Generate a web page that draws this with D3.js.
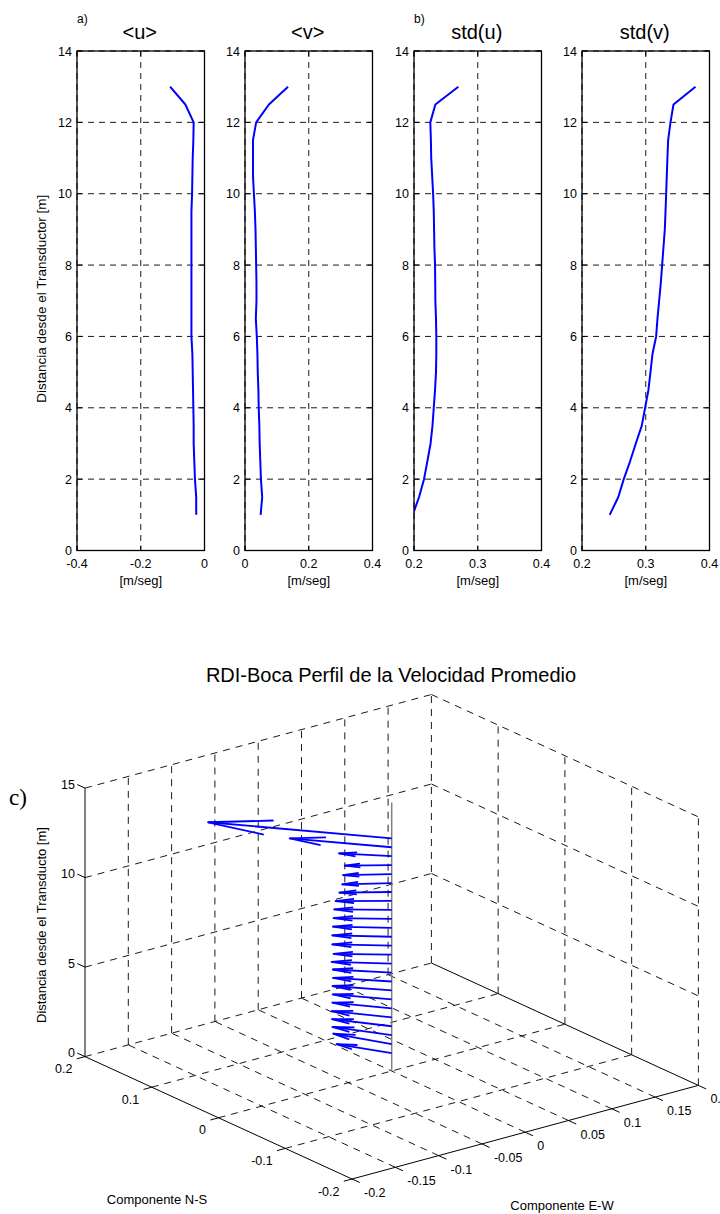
<!DOCTYPE html>
<html>
<head>
<meta charset="utf-8">
<script src="https://cdn.jsdelivr.net/npm/d3@7"></script>
<style>
  body { margin: 0; background: #fff; }
  svg { display: block; }
  text { font-family: "Liberation Sans", Arial, Helvetica, sans-serif; fill: #000; }
</style>
</head>
<body>
<svg id="fig" width="720" height="1214"></svg>
<script>
// Bin depths above the transducer [m]
const depth = [1, 1.5, 2, 2.5, 3, 3.5, 4, 4.5, 5, 5.5, 6, 6.5, 7, 7.5, 8, 8.5, 9, 9.5, 10, 10.5, 11, 11.5, 12, 12.5, 13];

// Mean E-W velocity <u> [m/s]
const meanU = [-0.026, -0.026, -0.030, -0.032, -0.034, -0.034, -0.035, -0.036, -0.037, -0.038,
               -0.041, -0.041, -0.041, -0.041, -0.041, -0.041, -0.041, -0.041, -0.039, -0.038,
               -0.037, -0.035, -0.034, -0.060, -0.108];
// Mean N-S velocity <v> [m/s]
const meanV = [0.049, 0.054, 0.050, 0.048, 0.046, 0.045, 0.043, 0.042, 0.040, 0.039,
               0.037, 0.034, 0.036, 0.036, 0.035, 0.034, 0.033, 0.031, 0.028, 0.025,
               0.025, 0.025, 0.035, 0.075, 0.135];
// Standard deviation of u [m/s]
const stdU = [0.198, 0.208, 0.2157, 0.221, 0.226, 0.229, 0.231, 0.233, 0.2345, 0.235,
              0.235, 0.2345, 0.2335, 0.2333, 0.233, 0.232, 0.2315, 0.231, 0.230, 0.2285,
              0.227, 0.2265, 0.2256, 0.2335, 0.2696];
// Standard deviation of v [m/s]
const stdV = [0.2435, 0.257, 0.2655, 0.2754, 0.2844, 0.2938, 0.299, 0.3042, 0.3074, 0.3105,
              0.3163, 0.3184, 0.321, 0.3236, 0.3257, 0.3278, 0.3299, 0.331, 0.332, 0.333,
              0.334, 0.3351, 0.3388, 0.3435, 0.378];

const profileTitles = ["<u>", "<v>", "std(u)", "std(v)"];
const profileDomains = [[-0.4, 0], [0, 0.4], [0.2, 0.4], [0.2, 0.4]];
const profileTicks = [[-0.4, -0.2, 0], [0, 0.2, 0.4], [0.2, 0.3, 0.4], [0.2, 0.3, 0.4]];
const depthTicks = [0, 2, 4, 6, 8, 10, 12, 14];

// 3-D quiver axes
const ewTicks = [-0.2, -0.15, -0.1, -0.05, 0, 0.05, 0.1, 0.15, 0.2];
const nsTicks = [-0.2, -0.1, 0, 0.1, 0.2];
const zTicks = [0, 5, 10, 15];

const svg = d3.select("#fig");
const BLUE = "#0000ff";

// ---------- upper row: four vertical profiles ----------
const panelLeft = [77, 245, 414, 582];
const panelW = 127.5, panelTop = 51, panelBottom = 550.5;
const yDepth = d3.scaleLinear().domain([0, 14]).range([panelBottom, panelTop]);
const profiles = [meanU, meanV, stdU, stdV];
const defs = svg.append("defs");

profiles.forEach((vals, i) => {
  const x0 = panelLeft[i], x1 = x0 + panelW;
  const x = d3.scaleLinear().domain(profileDomains[i]).range([x0, x1]);
  const g = svg.append("g");

  defs.append("clipPath").attr("id", "pclip" + i)
    .append("rect").attr("x", x0).attr("y", panelTop).attr("width", panelW).attr("height", panelBottom - panelTop);

  // dashed grid
  g.selectAll(".gx").data(profileTicks[i]).enter().append("line")
    .attr("x1", d => x(d)).attr("x2", d => x(d)).attr("y1", panelTop).attr("y2", panelBottom)
    .attr("stroke", "#000").attr("stroke-width", 0.9).attr("stroke-dasharray", "6,5");
  g.selectAll(".gy").data(depthTicks).enter().append("line")
    .attr("x1", x0).attr("x2", x1).attr("y1", d => yDepth(d)).attr("y2", d => yDepth(d))
    .attr("stroke", "#000").attr("stroke-width", 0.9).attr("stroke-dasharray", "6,5");

  // inward tick marks on all four sides
  const tl = 5;
  depthTicks.forEach(d => {
    g.append("line").attr("x1", x0).attr("x2", x0 + tl).attr("y1", yDepth(d)).attr("y2", yDepth(d)).attr("stroke", "#000");
    g.append("line").attr("x1", x1).attr("x2", x1 - tl).attr("y1", yDepth(d)).attr("y2", yDepth(d)).attr("stroke", "#000");
  });
  profileTicks[i].forEach(d => {
    g.append("line").attr("x1", x(d)).attr("x2", x(d)).attr("y1", panelBottom).attr("y2", panelBottom - tl).attr("stroke", "#000");
    g.append("line").attr("x1", x(d)).attr("x2", x(d)).attr("y1", panelTop).attr("y2", panelTop + tl).attr("stroke", "#000");
  });

  // profile curve
  const line = d3.line().x((d, k) => x(d)).y((d, k) => yDepth(depth[k]));
  g.append("path").datum(vals).attr("d", line)
    .attr("clip-path", "url(#pclip" + i + ")")
    .attr("fill", "none").attr("stroke", BLUE).attr("stroke-width", 2).attr("stroke-linejoin", "round");

  // axes box
  g.append("rect").attr("x", x0).attr("y", panelTop).attr("width", panelW).attr("height", panelBottom - panelTop)
    .attr("fill", "none").attr("stroke", "#000").attr("stroke-width", 1.3);

  // tick labels
  g.selectAll(".ly").data(depthTicks).enter().append("text")
    .attr("x", x0 - 5).attr("y", d => yDepth(d) + 4.5)
    .attr("text-anchor", "end").attr("font-size", 12.5).text(d => d);
  g.selectAll(".lx").data(profileTicks[i]).enter().append("text")
    .attr("x", d => x(d)).attr("y", panelBottom + 17)
    .attr("text-anchor", "middle").attr("font-size", 12.5).text(d => String(d));

  g.append("text").attr("x", (x0 + x1) / 2).attr("y", panelBottom + 34)
    .attr("text-anchor", "middle").attr("font-size", 13).text("[m/seg]");
  g.append("text").attr("x", (x0 + x1) / 2 - 1).attr("y", 38.5)
    .attr("text-anchor", "middle").attr("font-size", 20).text(profileTitles[i]);
});

svg.append("text").attr("x", panelLeft[0]).attr("y", 23).attr("font-size", 12).text("a)");
svg.append("text").attr("x", panelLeft[2]).attr("y", 23).attr("font-size", 12).text("b)");
svg.append("text")
  .attr("transform", `translate(46,${(panelTop + panelBottom) / 2 - 2}) rotate(-90)`)
  .attr("text-anchor", "middle").attr("font-size", 13.5)
  .text("Distancia desde el Transductor [m]");

// ---------- lower panel: 3-D quiver of the mean velocity ----------
// Orthographic projection, each world axis mapped by its own linear scale
const origin = [391.7, 1071];
const ewX = d3.scaleLinear().domain([-0.2, 0.2]).range([-173.2, 173.2]);
const ewY = d3.scaleLinear().domain([-0.2, 0.2]).range([46.8, -46.8]);
const nsX = d3.scaleLinear().domain([-0.2, 0.2]).range([133.5, -133.5]);
const nsY = d3.scaleLinear().domain([-0.2, 0.2]).range([61.2, -61.2]);
const zY = d3.scaleLinear().domain([0, 15]).range([0, -268.5]);
const proj = (e, n, z) => [origin[0] + ewX(e) + nsX(n), origin[1] + ewY(e) + nsY(n) + zY(z)];

const eMin = ewTicks[0], eMax = ewTicks[ewTicks.length - 1];
const nMin = nsTicks[0], nMax = nsTicks[nsTicks.length - 1];
const zMin = zTicks[0], zMax = zTicks[zTicks.length - 1];

const g3 = svg.append("g");
const seg = (a, b, dashed, color, w) => {
  g3.append("line").attr("x1", a[0]).attr("y1", a[1]).attr("x2", b[0]).attr("y2", b[1])
    .attr("stroke", color || "#000").attr("stroke-width", w || 0.9)
    .attr("stroke-dasharray", dashed ? "7,6" : null);
};

// floor grid (z = 0)
ewTicks.filter(e => e !== eMin && e !== eMax).forEach(e => seg(proj(e, nMin, zMin), proj(e, nMax, zMin), true));
nsTicks.filter(n => n !== nMin).forEach(n => seg(proj(eMin, n, zMin), proj(eMax, n, zMin), true));
// back wall n = max
ewTicks.filter(e => e !== eMin).forEach(e => seg(proj(e, nMax, zMin), proj(e, nMax, zMax), true));
zTicks.filter(z => z !== zMin).forEach(z => seg(proj(eMin, nMax, z), proj(eMax, nMax, z), true));
// back wall e = max
nsTicks.filter(n => n !== nMax).forEach(n => seg(proj(eMax, n, zMin), proj(eMax, n, zMax), true));
zTicks.filter(z => z !== zMin).forEach(z => seg(proj(eMax, nMax, z), proj(eMax, nMin, z), true));

// solid axis lines
seg(proj(eMin, nMin, zMin), proj(eMin, nMax, zMin), false, "#000", 1);
seg(proj(eMin, nMin, zMin), proj(eMax, nMin, zMin), false, "#000", 1);
seg(proj(eMax, nMax, zMin), proj(eMax, nMin, zMin), false, "#000", 1);
seg(proj(eMin, nMax, zMin), proj(eMin, nMax, zMax), false, "#000", 1);

// tick marks and labels
const tickLen = 8.5;
const unit = (a, b) => { const dx = b[0] - a[0], dy = b[1] - a[1], L = Math.hypot(dx, dy); return [dx / L, dy / L]; };
const uEW = unit(proj(eMin, 0, 0), proj(eMax, 0, 0));
const uNS = unit(proj(0, nMin, 0), proj(0, nMax, 0));

nsTicks.forEach(n => {
  const p = proj(eMin, n, zMin);
  seg(p, [p[0] - uEW[0] * tickLen, p[1] - uEW[1] * tickLen], false, "#000", 1);
  g3.append("text").attr("x", p[0] - 12.5).attr("y", p[1] + 16.5)
    .attr("text-anchor", "end").attr("font-size", 12.5).text(String(n));
});
ewTicks.forEach(e => {
  const p = proj(e, nMin, zMin);
  seg(p, [p[0] - uNS[0] * tickLen, p[1] - uNS[1] * tickLen], false, "#000", 1);
  g3.append("text").attr("x", p[0] + 12).attr("y", p[1] + 18)
    .attr("text-anchor", "start").attr("font-size", 12.5).text(String(e));
});
zTicks.forEach(z => {
  const p = proj(eMin, nMax, z);
  seg(p, [p[0] + uNS[0] * tickLen, p[1] + uNS[1] * tickLen], false, "#000", 1);
  g3.append("text").attr("x", p[0] - 10).attr("y", p[1] + 0.5)
    .attr("text-anchor", "end").attr("font-size", 12.5).text(z);
});

// vertical reference line through the instrument position
seg(proj(0, 0, zMin), proj(0, 0, zMax), false, "#808080", 1.5);

// quiver arrows: shaft plus two-stroke head (alpha = beta = 0.33)
const alpha = 0.33, beta = 0.33;
const arrows = depth.map((z, k) => ({ z, u: meanU[k], v: meanV[k] }));
const ag = g3.append("g").attr("fill", "none").attr("stroke", BLUE).attr("stroke-width", 1.8)
  .attr("stroke-linejoin", "round");
arrows.forEach(a => {
  const tail = proj(0, 0, a.z);
  const tip = proj(a.u, a.v, a.z);
  const h1 = proj(a.u - alpha * (a.u + beta * a.v), a.v - alpha * (a.v - beta * a.u), a.z);
  const h2 = proj(a.u - alpha * (a.u - beta * a.v), a.v - alpha * (a.v + beta * a.u), a.z);
  ag.append("path").attr("d", d3.line()([tail, tip]));
  ag.append("path").attr("d", d3.line()([h1, tip, h2]));
});

// labels
svg.append("text").attr("x", 391).attr("y", 681.5).attr("text-anchor", "middle").attr("font-size", 20)
  .text("RDI-Boca Perfil de la Velocidad Promedio");
svg.append("text").attr("x", 157).attr("y", 1204).attr("text-anchor", "middle").attr("font-size", 13)
  .text("Componente N-S");
svg.append("text").attr("x", 562).attr("y", 1210).attr("text-anchor", "middle").attr("font-size", 13)
  .text("Componente E-W");
svg.append("text")
  .attr("transform", "translate(46,925) rotate(-90)")
  .attr("text-anchor", "middle").attr("font-size", 13)
  .text("Distancia desde el Transducto [m]");
svg.append("text").attr("x", 9).attr("y", 805)
  .attr("font-family", "'Liberation Serif', 'Times New Roman', serif").style("font-family", "'Liberation Serif', 'Times New Roman', serif")
  .attr("font-size", 23).text("c)");
</script>
</body>
</html>
